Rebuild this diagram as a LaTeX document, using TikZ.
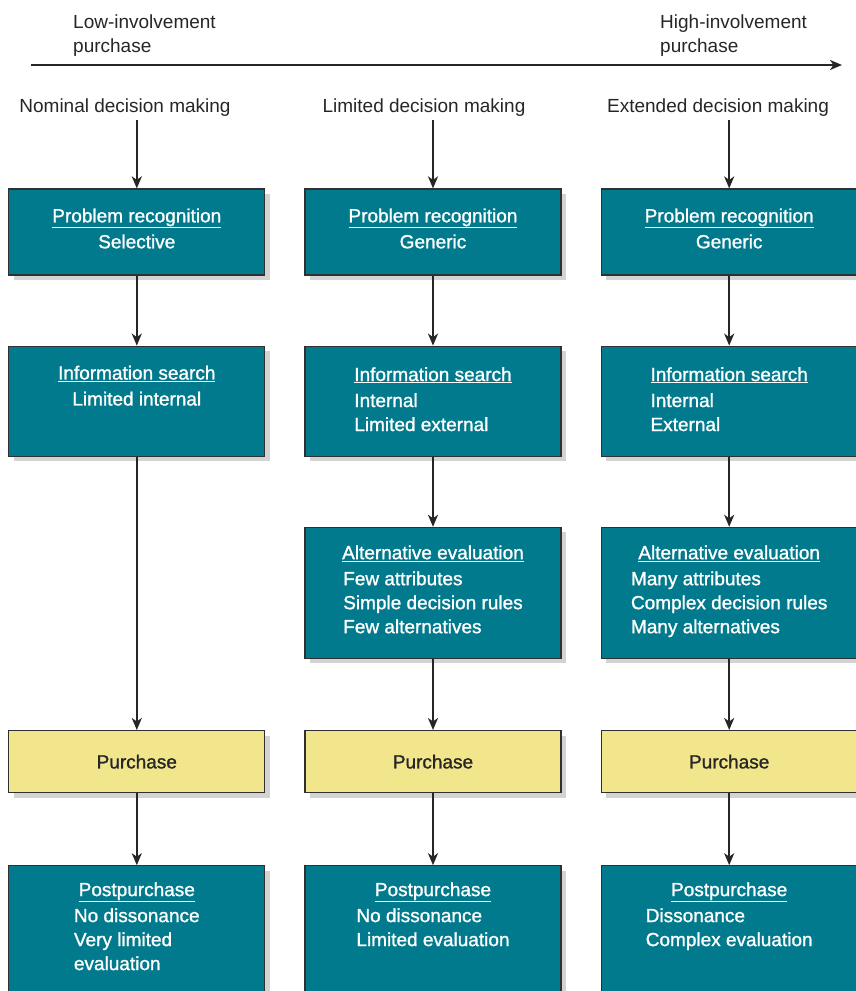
\documentclass[tikz,border=0pt]{standalone}
\usepackage{fontspec}
\setmainfont{Liberation Sans}
\newfontfamily\stagefont{Liberation Sans}[FakeBold=1.2]
\usetikzlibrary{arrows.meta,positioning,shadows}

\definecolor{boxteal}{HTML}{007A8C}
\definecolor{buyyellow}{HTML}{F2E68C}
\definecolor{edgegray}{HTML}{303030}
\newcommand{\stagetext}[2]{\underline{#1}\\[2pt]\begin{tabular}[t]{@{}l@{}}#2\end{tabular}}
\newcommand{\flushtext}[2]{\begin{tabular}{@{}l@{}}\underline{#1}\\[2pt]#2\end{tabular}}

\begin{document}
\begin{tikzpicture}[x=1pt, y=-1pt, node distance=70pt and 39pt,
  >={Stealth[length=12pt,width=10pt,inset=3.5pt]},
  font=\fontsize{19}{24}\selectfont, text=black!85,
  stage/.style = {draw=edgegray, line width=1.2pt, fill=boxteal, text=white, minimum width=256pt,
                  align=center, inner sep=0pt, font=\fontsize{19}{24}\stagefont,
                  drop shadow={shadow xshift=5pt, shadow yshift=-5pt, opacity=0.35}},
  buy/.style = {stage, fill=buyyellow, text=black!85},
  flow/.style = {->, line width=2pt, draw=black!85}]
    \useasboundingbox (0,0) rectangle (856,991);

    % involvement axis
    \node [anchor=north west, align=left, inner sep=0pt] (low)  at (73,15)  {Low-involvement\\purchase};
    \node [anchor=north west, align=left, inner sep=0pt] (high) at (660,15) {High-involvement\\purchase};
    \coordinate (lowend)  at (31,65);
    \coordinate (highend) at (842,65);
    \draw [flow, line width=2.5pt] (lowend) -- (highend);

    % middle column
    \node [stage, minimum height=86pt]  (PR2) at (433,232) {\stagetext{Problem recognition}{Generic}};
    \node [stage, minimum height=110pt, below=of PR2] (IS2) {\flushtext{Information search}{Internal\\Limited external}};
    \node [stage, minimum height=131pt, below=of IS2] (AE2) {\stagetext{Alternative evaluation}{Few attributes\\Simple decision rules\\Few alternatives}};
    \node [buy,   minimum height=62pt,  below=71pt of AE2] (PU2) {Purchase};
    \node [stage, minimum height=128pt, below=72pt of PU2] (PP2) {\stagetext{Postpurchase}{No dissonance\\Limited evaluation\\\mbox{}}};

    % left column
    \node [stage, minimum height=86pt,  left=of PR2] (PR1) {\stagetext{Problem recognition}{Selective}};
    \node [stage, minimum height=110pt, left=of IS2] (IS1) {\stagetext{Information search}{Limited internal\\\mbox{}}};
    \node [buy,   minimum height=62pt,  left=of PU2] (PU1) {Purchase};
    \node [stage, minimum height=128pt, left=of PP2] (PP1) {\stagetext{Postpurchase}{No dissonance\\Very limited\\evaluation}};

    % right column
    \node [stage, minimum height=86pt,  right=of PR2] (PR3) {\stagetext{Problem recognition}{Generic}};
    \node [stage, minimum height=110pt, right=of IS2] (IS3) {\flushtext{Information search}{Internal\\External}};
    \node [stage, minimum height=131pt, right=of AE2] (AE3) {\stagetext{Alternative evaluation}{Many attributes\\Complex decision rules\\Many alternatives}};
    \node [buy,   minimum height=62pt,  right=of PU2] (PU3) {Purchase};
    \node [stage, minimum height=128pt, right=of PP2] (PP3) {\stagetext{Postpurchase}{Dissonance\\Complex evaluation\\\mbox{}}};

    % column titles
    \node (T1) at (125,108) {Nominal decision making};
    \node (T2) at (424,108) {Limited decision making};
    \node (T3) at (718,108) {Extended decision making};

    \draw [flow] (T1.south -| PR1.north) -- (PR1.north);
    \draw [flow] (T2.south -| PR2.north) -- (PR2.north);
    \draw [flow] (T3.south -| PR3.north) -- (PR3.north);
    \path [flow] (PR1) edge (IS1)
                 (IS1) edge (PU1)
                 (PU1) edge (PP1)
                 (PR2) edge (IS2)
                 (IS2) edge (AE2)
                 (AE2) edge (PU2)
                 (PU2) edge (PP2)
                 (PR3) edge (IS3)
                 (IS3) edge (AE3)
                 (AE3) edge (PU3)
                 (PU3) edge (PP3)
                 ;
\end{tikzpicture}
\end{document}
